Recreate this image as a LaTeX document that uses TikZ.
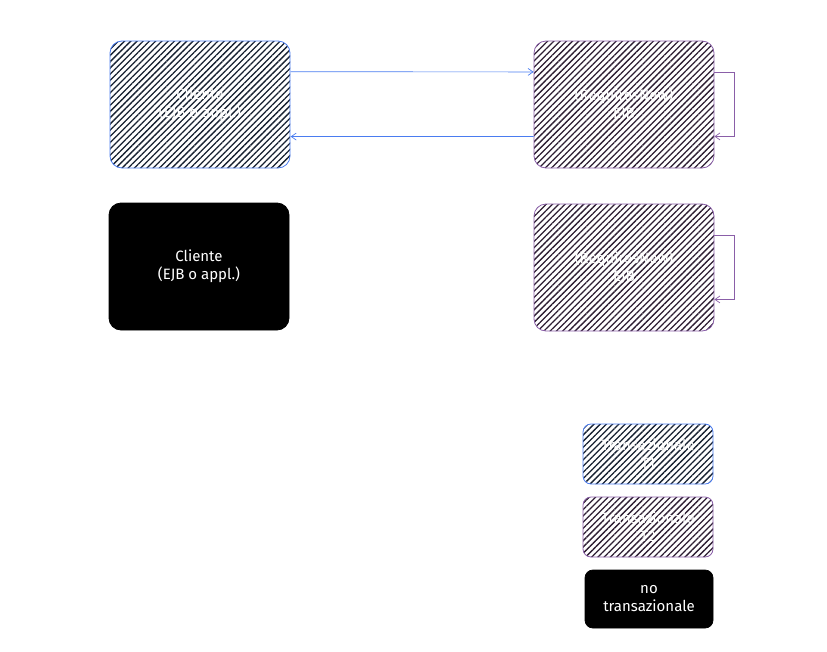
\documentclass[tikz,border=0pt]{standalone}
\usepackage{fontspec}
\setmainfont{Fira Sans}
\usepackage{tikz}
\usetikzlibrary{arrows.meta, positioning, patterns.meta, calc}
\definecolor{tblue}{RGB}{74,124,240}
\definecolor{tpurple}{RGB}{138,94,168}
\definecolor{hatchblue}{RGB}{22,32,48}
\definecolor{hatchpurple}{RGB}{45,30,50}

\begin{document}
\begin{tikzpicture}[x=1pt, y=-1pt,
  every node/.style={font=\fontsize{15}{18}\selectfont, align=center, text=white},
  box/.style={rounded corners=12pt, minimum width=180pt, minimum height=127pt, line width=0.8pt},
  leg/.style={rounded corners=8pt, minimum width=130pt, minimum height=60pt, line width=0.8pt},
  tone/.style={draw=tblue, pattern={Lines[angle=45,distance=4.4pt,line width=1.3pt]}, pattern color=hatchblue},
  ttwo/.style={draw=tpurple, pattern={Lines[angle=45,distance=4.4pt,line width=1.3pt]}, pattern color=hatchpurple},
  notx/.style={draw=black, fill=black},
  call/.style={-{Straight Barb[length=5pt,width=7pt]}, line width=0.7pt}]
  \useasboundingbox (0,0) rectangle (827,651);
  % Client inside T1
  \node[box, tone] (cli) at (200,104.5) {Cliente\\(EJB o appl.)};
  \node[box, ttwo] (ejb) at (624,104.5) {(RequiresNew)\\EJB};
  % Client without transaction
  \node[box, notx] (cli2) at (199,266.5) {Cliente\\(EJB o appl.)};
  \node[box, ttwo] (ejb2) at (624,267.5) {(RequiresNew)\\EJB};
  % Calls and returns
  \draw[call, tblue] ($(cli.north east)!0.245!(cli.south east)$)
    -- ($(ejb.north west)!0.245!(ejb.south west)$);
  \draw[call, tblue] ($(ejb.north west)!0.75!(ejb.south west)$)
    -- ($(cli.north east)!0.75!(cli.south east)$);
  % Self loops
  \foreach \n in {ejb, ejb2}{
    \draw[call, tpurple] ($(\n.north east)!0.25!(\n.south east)$) -| ++(20,0)
      |- ($(\n.north east)!0.75!(\n.south east)$);
  }
  % Legend
  \node[leg, tone] (l1) at (648,454) {Transazionale\\T1};
  \node[leg, ttwo] (l2) at (648,527) {Transazionale\\T2};
  \node[leg, notx, minimum width=128pt, minimum height=58pt] (l3) at (649,599)
    {no\\transazionale};
\end{tikzpicture}
\end{document}
